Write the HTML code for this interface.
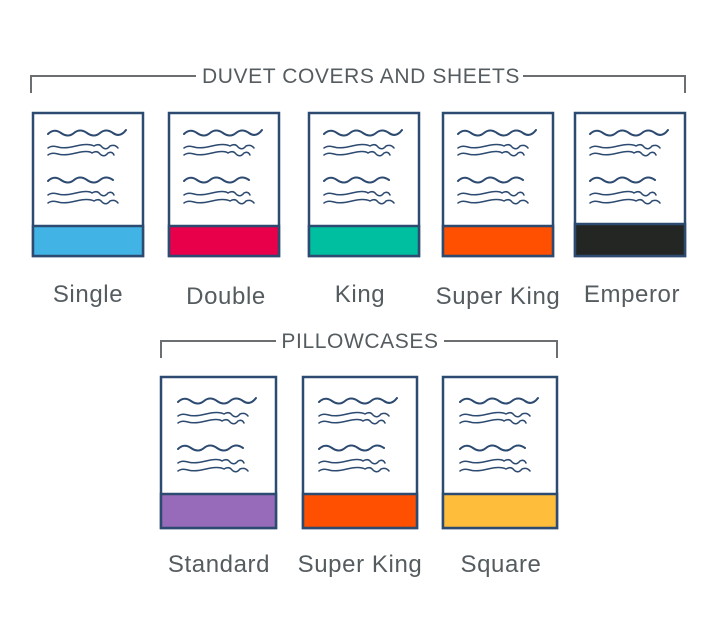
<!DOCTYPE html>
<html><head><style>
html,body{margin:0;padding:0;background:#fff;}
svg{display:block;}
text{font-family:"Liberation Sans",sans-serif;fill:#555c60;}
</style></head><body>
<svg width="720" height="636" viewBox="0 0 720 636" xmlns="http://www.w3.org/2000/svg">
<defs>
<g id="sq" fill="none" stroke="#2d4a70" stroke-linecap="round">
<path d="M15 21 q6 -6 13 -1 t13 0 t13 0 t13 0 t13 0 t13 -3" stroke-width="2"/>
<path d="M15 35 q4 -3 10 -1 t18 -1 t18 0 q5 -3 8 1 q4 4 8 -1 q5 -2 8 2" stroke-width="1.5"/>
<path d="M15 42 q4 -3 10 -1 t18 -1 t16 0 q5 -3 8 1 q4 4 8 -1 q4 -2 6 2" stroke-width="1.5"/>
<path d="M15 68 q6 -6 13 -1 t13 0 t13 0 t13 0 t13 0" stroke-width="2"/>
<path d="M15 82 q4 -3 10 -1 t18 -1 t16 0 q5 -3 8 1 q4 4 8 -1 q4 -2 6 2" stroke-width="1.5"/>
<path d="M15 90 q4 -3 10 -1 t18 -1 t18 0 q5 -3 8 1 q4 4 8 -1 q5 -2 8 2" stroke-width="1.5"/>
</g>
</defs>
<g fill="none" stroke="#6b6f72" stroke-width="2">
<path d="M31 93 V76 H196 M523 76 H685 V93"/>
<path d="M161 358 V341 H276 M444 341 H557 V358"/>
</g>
<text x="361" y="83" font-size="21" text-anchor="middle" letter-spacing="0.6">DUVET COVERS AND SHEETS</text>
<text x="360" y="348" font-size="21" text-anchor="middle" letter-spacing="0.6">PILLOWCASES</text>

<g stroke="#2d4a70" stroke-width="2.5">
<rect x="33" y="113" width="110" height="143" fill="#fff"/><rect x="33" y="226" width="110" height="30" fill="#41b4e5"/>
<rect x="169" y="113" width="110" height="143" fill="#fff"/><rect x="169" y="226" width="110" height="30" fill="#e8004a"/>
<rect x="309" y="113" width="110" height="143" fill="#fff"/><rect x="309" y="226" width="110" height="30" fill="#00bfa0"/>
<rect x="443" y="113" width="110" height="143" fill="#fff"/><rect x="443" y="226" width="110" height="30" fill="#ff4f00"/>
<rect x="575" y="113" width="110" height="143" fill="#fff"/><rect x="575" y="224" width="110" height="32" fill="#232622"/>
<rect x="161" y="377" width="115" height="151" fill="#fff"/><rect x="161" y="494" width="115" height="34" fill="#976bb9"/>
<rect x="303" y="377" width="114" height="151" fill="#fff"/><rect x="303" y="494" width="114" height="34" fill="#ff4f00"/>
<rect x="443" y="377" width="114" height="151" fill="#fff"/><rect x="443" y="494" width="114" height="34" fill="#ffbd3c"/>
</g>
<use href="#sq" x="33" y="113"/>
<use href="#sq" x="169" y="113"/>
<use href="#sq" x="309" y="113"/>
<use href="#sq" x="443" y="113"/>
<use href="#sq" x="575" y="113"/>
<use href="#sq" x="163" y="381"/>
<use href="#sq" x="304" y="381"/>
<use href="#sq" x="445" y="381"/>

<g font-size="24" text-anchor="middle" letter-spacing="0.6">
<text x="88" y="302">Single</text>
<text x="226" y="304">Double</text>
<text x="360" y="302">King</text>
<text x="498" y="304">Super King</text>
<text x="632" y="302">Emperor</text>
<text x="219" y="572">Standard</text>
<text x="360" y="572">Super King</text>
<text x="501" y="572">Square</text>
</g>
</svg>
</body></html>
